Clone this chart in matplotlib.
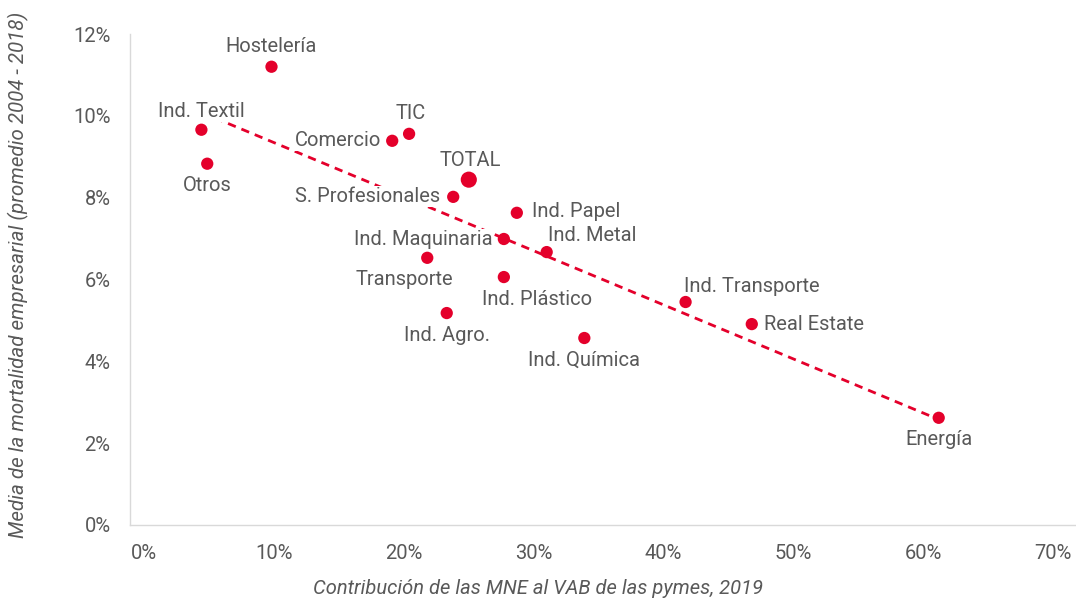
import numpy as np
import matplotlib.pyplot as plt
from matplotlib.ticker import FuncFormatter

plt.rcParams['font.family'] = ['Roboto', 'DejaVu Sans']

# sector data (% values)
sectors = ['Hostelería', 'Ind. Textil', 'Otros', 'Comercio', 'TIC', 'TOTAL',
           'S. Profesionales', 'Ind. Papel', 'Ind. Maquinaria', 'Ind. Metal',
           'Transporte', 'Ind. Plástico', 'Ind. Agro.', 'Ind. Química',
           'Ind. Transporte', 'Real Estate', 'Energía']
contrib_mne = [9.8, 4.4, 4.85, 19.1, 20.4, 25.0, 23.8, 28.7, 27.7, 31.0,
               21.8, 27.7, 23.3, 33.9, 41.7, 46.8, 61.2]
mortalidad = [11.2, 9.66, 8.83, 9.39, 9.56, 8.44, 8.02, 7.63, 6.99, 6.67,
              6.53, 6.06, 5.18, 4.57, 5.45, 4.91, 2.62]

# label placement: offset in pixels and alignment
label_pos = {
    'Hostelería': (0, 20, 'center'),
    'Ind. Textil': (0, 18, 'center'),
    'Otros': (0, -22, 'center'),
    'Comercio': (-11, 0, 'right'),
    'TIC': (2, 20, 'center'),
    'TOTAL': (2, 19, 'center'),
    'S. Profesionales': (-13, 0, 'right'),
    'Ind. Papel': (15, 1, 'left'),
    'Ind. Maquinaria': (-11, -1, 'right'),
    'Ind. Metal': (1, 17, 'left'),
    'Transporte': (-23, -22, 'center'),
    'Ind. Plástico': (33, -22, 'center'),
    'Ind. Agro.': (0, -22, 'center'),
    'Ind. Química': (0, -22, 'center'),
    'Ind. Transporte': (-2, 16, 'left'),
    'Real Estate': (12, 0, 'left'),
    'Energía': (0, -22, 'center'),
}

red = '#E4002B'
grey = '#595959'
fs = 14.5

fig = plt.figure(figsize=(10.76, 5.99), dpi=100)
ax = fig.add_axes([130 / 1076, 74 / 599, 945 / 1076, 491 / 599])

x = np.array(contrib_mne)
y = np.array(mortalidad)
sizes = [135 if s == 'TOTAL' else 78 for s in sectors]
ax.scatter(x, y, s=sizes, color=red, zorder=4, linewidths=0)

# linear trend line
coef = np.polyfit(x, y, 1)
xt = np.array([x.min(), x.max()])
ax.plot(xt, np.polyval(coef, xt), color=red, lw=2, ls=(0, (3, 2.2)), zorder=2)

for name, xi, yi in zip(sectors, x, y):
    dx, dy, ha = label_pos[name]
    ax.annotate(name, (xi, yi), xytext=(dx, dy), textcoords='offset pixels',
                ha=ha, va='center', fontsize=fs, color=grey, zorder=3,
                bbox=dict(boxstyle='square,pad=0.05', fc='white', ec='none'))

ax.set_xlim(-1.1, 71.7)
ax.set_ylim(0, 12)
ax.set_xticks(np.arange(0, 71, 10))
ax.set_yticks(np.arange(0, 13, 2))
ax.xaxis.set_major_formatter(FuncFormatter(lambda v, p: f'{v:.0f}%'))
ax.yaxis.set_major_formatter(FuncFormatter(lambda v, p: f'{v:.0f}%'))
ax.tick_params(length=0, labelsize=fs, labelcolor=grey)
ax.tick_params(axis='x', pad=14)
ax.tick_params(axis='y', pad=14)

for side in ['top', 'right']:
    ax.spines[side].set_visible(False)
for side in ['left', 'bottom']:
    ax.spines[side].set_color('#D9D9D9')
    ax.spines[side].set_linewidth(1)

fig.text(0.5, 1 - 588 / 599, 'Contribución de las MNE al VAB de las pymes, 2019',
         ha='center', va='center', fontsize=fs, style='italic', color=grey)
fig.text(18 / 1076, 1 - 275 / 599,
         'Media de la mortalidad empresarial (promedio 2004 - 2018)',
         ha='center', va='center', rotation=90, fontsize=14.8, style='italic', color=grey)

fig.savefig('out.png', dpi=100)
